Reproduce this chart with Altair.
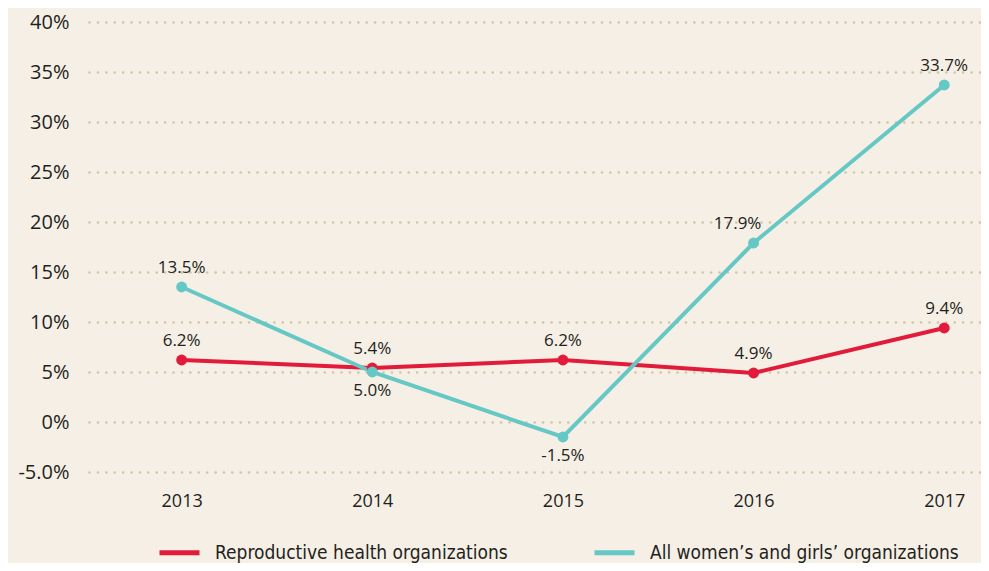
import altair as alt
import pandas as pd

years = [2013, 2014, 2015, 2016, 2017]
repro = [6.2, 5.4, 6.2, 4.9, 9.4]
women = [13.5, 5.0, -1.5, 17.9, 33.7]
repro_pos = ["above", "above", "above", "above", "above"]
women_pos = ["above", "below", "below", "aboveleft", "above"]
series_names = ["Reproductive health organizations", "All women\u2019s and girls\u2019 organizations"]
colors = ["#e31b3b", "#66c8c4"]
y_ticks = [-5, 0, 5, 10, 15, 20, 25, 30, 35, 40]

rows = []
for i, y in enumerate(years):
    rows.append({"year": y, "value": repro[i], "series": series_names[0], "pos": repro_pos[i],
                 "label": f"{repro[i]:.1f}%"})
for i, y in enumerate(years):
    rows.append({"year": y, "value": women[i], "series": series_names[1], "pos": women_pos[i],
                 "label": f"{women[i]:.1f}%"})
df = pd.DataFrame(rows)

FONT = "Open Sans"
TXT = "#231f20"

x = alt.X("year:Q", scale=alt.Scale(domain=[2012.514, 2017.193], nice=False, zero=False),
          axis=alt.Axis(values=years, format="d", title=None, grid=False, domain=False, ticks=False,
                        labelFont=FONT, labelFontSize=18, labelFontWeight=500, labelColor=TXT,
                        labelPadding=20))
y = alt.Y("value:Q", scale=alt.Scale(domain=[-5, 40], nice=False, zero=False),
          axis=alt.Axis(values=y_ticks, title=None, domain=False, ticks=False,
                        labelExpr="datum.value == -5 ? '-5.0%' : datum.value + '%'",
                        labelFont=FONT, labelFontSize=20, labelFontWeight=500, labelColor=TXT,
                        labelPadding=20,
                        grid=True, gridColor="#d3c6a6", gridDash=[0.1, 8.3], gridWidth=2.6,
                        gridCap="round"))
color = alt.Color("series:N", scale=alt.Scale(domain=series_names, range=colors),
                  legend=alt.Legend(title=None, orient="none", direction="horizontal",
                                    legendX=68, legendY=508, symbolType="stroke",
                                    symbolStrokeWidth=5, symbolSize=1600,
                                    labelFont="DejaVu Sans Condensed",
                                    labelFontSize=19, labelColor=TXT, columnPadding=76,
                                    labelOffset=13, labelLimit=400, padding=0))

base = alt.Chart(df)
lines = base.mark_line(strokeWidth=4).encode(x=x, y=y, color=color, detail="series:N")
points = base.mark_circle(size=120, opacity=1).encode(
    x=x, y=y,
    color=alt.Color("series:N", scale=alt.Scale(domain=series_names, range=colors), legend=None))
above = base.transform_filter(alt.datum.pos == "above").mark_text(
    dy=-19, font=FONT, fontSize=17, fontWeight=500, color=TXT).encode(x=x, y=y, text="label:N")
aboveleft = base.transform_filter(alt.datum.pos == "aboveleft").mark_text(
    dy=-19, dx=-16, font=FONT, fontSize=17, fontWeight=500, color=TXT).encode(x=x, y=y, text="label:N")
below = base.transform_filter(alt.datum.pos == "below").mark_text(
    dy=19, font=FONT, fontSize=17, fontWeight=500, color=TXT).encode(x=x, y=y, text="label:N")

chart = alt.layer(lines, points, above, aboveleft, below).properties(
    width=892, height=450, background="#f5efe6",
    autosize=alt.AutoSizeParams(type="none"),
    padding={"left": 81, "top": 14, "right": 0, "bottom": 91}
).configure_view(stroke=None)

chart.save("out.html", embed_options={"renderer": "svg", "actions": False})
